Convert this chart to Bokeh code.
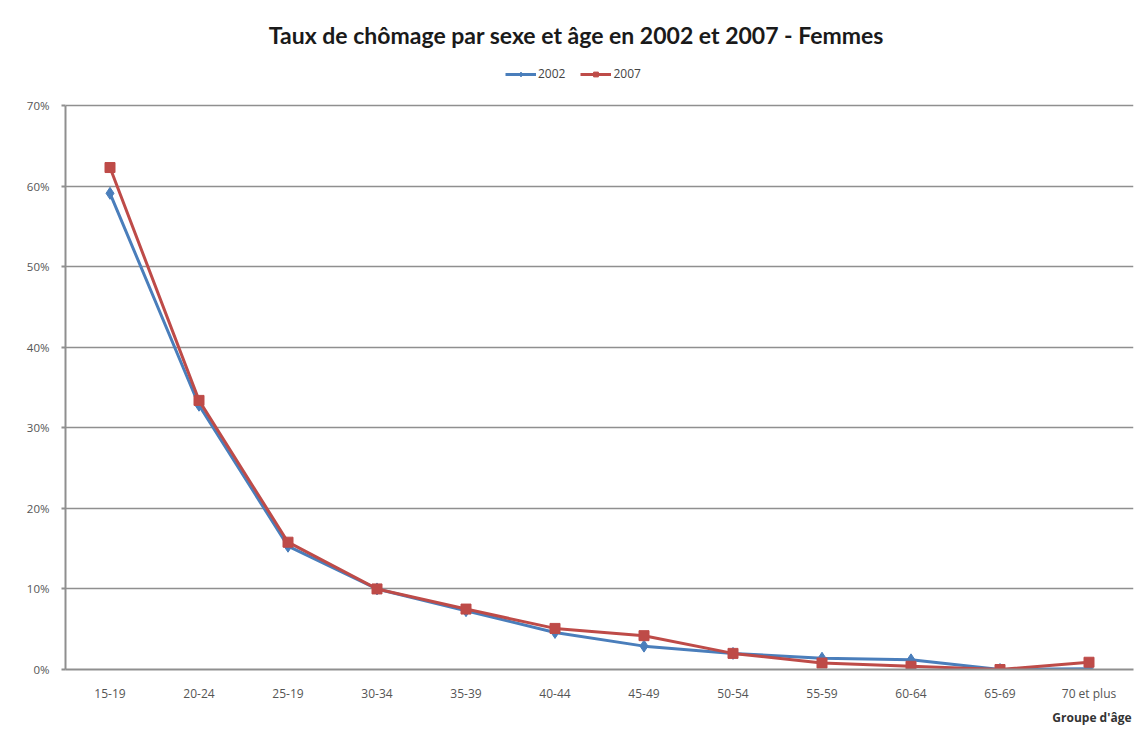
from bokeh.plotting import figure
from bokeh.models import (FactorRange, Range1d, FixedTicker, PrintfTickFormatter,
                          Legend, LegendItem, Label, Title)
from bokeh.embed import file_html
from bokeh.resources import INLINE

# Unemployment rate of women by age group (%)
age_groups = ["15-19", "20-24", "25-19", "30-34", "35-39", "40-44",
              "45-49", "50-54", "55-59", "60-64", "65-69", "70 et plus"]
rate_2002 = [59.1, 32.8, 15.3, 10.0, 7.3, 4.6, 2.9, 2.0, 1.4, 1.2, 0.0, 0.1]
rate_2007 = [62.3, 33.4, 15.8, 10.0, 7.5, 5.1, 4.2, 2.0, 0.8, 0.4, 0.0, 0.9]
y_ticks = [0, 10, 20, 30, 40, 50, 60, 70]

TITLE_FONT = "Lato"
FONT = "Open Sans"
GRID = "#8f8f8f"
BLUE = "#4a7ebb"
RED = "#be4b48"

# the frame reaches the top of the canvas so the header sits above the 70% line
FRAME_H = 669
PLOT_H = 564
y_top = 70 * FRAME_H / PLOT_H

p = figure(frame_width=1068, frame_height=FRAME_H, x_range=FactorRange(*age_groups),
           y_range=Range1d(0, y_top), output_backend="svg", toolbar_location=None,
           min_border_left=65, min_border_right=8, min_border_bottom=78,
           min_border_top=0, title=None)

p.outline_line_color = None
p.background_fill_color = "white"
p.border_fill_color = "white"

# y axis
p.yaxis.bounds = (0, 70)
p.yaxis.ticker = FixedTicker(ticks=y_ticks)
p.yaxis.formatter = PrintfTickFormatter(format="%d%%")
p.yaxis.axis_line_color = GRID
p.yaxis.axis_line_width = 2
p.yaxis.major_tick_line_color = GRID
p.yaxis.major_tick_line_width = 2
p.yaxis.major_tick_out = 4
p.yaxis.major_tick_in = 0
p.yaxis.minor_tick_line_color = None
p.yaxis.major_label_text_font = FONT
p.yaxis.major_label_text_font_size = "11.5px"
p.yaxis.major_label_text_color = "#555555"
p.yaxis.major_label_standoff = 12

# x axis
p.xaxis.axis_line_color = GRID
p.xaxis.axis_line_width = 2
p.xaxis.major_tick_line_color = None
p.xaxis.minor_tick_line_color = None
p.xaxis.major_label_text_font = FONT
p.xaxis.major_label_text_font_size = "12px"
p.xaxis.major_label_text_color = "#555555"
p.xaxis.major_label_standoff = 9

p.xgrid.grid_line_color = None
p.ygrid.grid_line_color = GRID
p.ygrid.grid_line_width = 1.6

# series
l1 = p.line(age_groups, rate_2002, line_color=BLUE, line_width=3)
m1 = p.scatter(age_groups, rate_2002, marker="diamond", size=12,
               fill_color=BLUE, line_color=BLUE)
l2 = p.line(age_groups, rate_2007, line_color=RED, line_width=3)
m2 = p.scatter(age_groups, rate_2007, marker="square", size=10,
               fill_color=RED, line_color=RED)

# legend just above the 70% line
legend = Legend(items=[LegendItem(label="2002", renderers=[l1, m1]),
                       LegendItem(label="2007", renderers=[l2, m2])],
                orientation="horizontal", location=(440, 587),
                label_text_font=FONT, label_text_font_size="12px",
                label_text_color="#444444", glyph_width=31, glyph_height=12,
                spacing=15, label_standoff=2, border_line_color=None,
                padding=2, margin=0, background_fill_alpha=0)
p.add_layout(legend, "center")

# chart title
p.add_layout(Label(x=5.74, y=78.8, text="Taux de chômage par sexe et âge en 2002 et 2007 - Femmes",
                   text_align="center", text_baseline="middle", text_font=TITLE_FONT,
                   text_font_size="23px", text_font_style="bold",
                   text_color="#1a1a1a"))

# axis title at bottom right
p.add_layout(Title(text="Groupe d'âge", align="right", offset=2,
                   text_font=FONT, text_font_size="12px", text_font_style="bold",
                   text_color="#333333", standoff=4), "below")

open("out.html", "w").write(file_html(p, INLINE))
